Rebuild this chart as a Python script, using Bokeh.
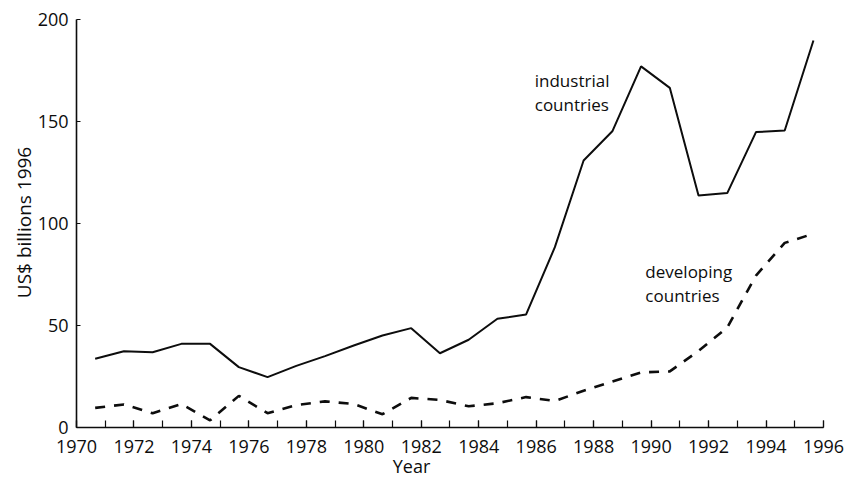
import math
from bokeh.plotting import figure
from bokeh.models import Range1d, LinearAxis, SingleIntervalTicker, FixedTicker, Label
from bokeh.embed import file_html
from bokeh.resources import INLINE

# ---- data ----
years = [1971, 1972, 1973, 1974, 1975, 1976, 1977, 1978, 1979, 1980, 1981, 1982, 1983,
         1984, 1985, 1986, 1987, 1988, 1989, 1990, 1991, 1992, 1993, 1994, 1995, 1996]
industrial = [33.7, 37.4, 36.9, 41.0, 41.0, 29.6, 24.7, 30.2, 35.0, 40.2, 45.1, 48.7, 36.4,
              43.0, 53.3, 55.4, 88.4, 130.9, 145.2, 177.0, 166.5, 113.7, 114.9, 144.8, 145.6, 189.7]
developing = [9.6, 11.3, 7.0, 11.5, 3.5, 15.5, 7.0, 11.0, 12.8, 11.5, 6.5, 14.5, 13.5,
              10.4, 11.9, 14.9, 13.0, 18.0, 22.5, 27.0, 27.5, 37.5, 49.0, 74.5, 90.5, 95.0]
y_ticks = [0, 50, 100, 150, 200]
x_title = "Year"
y_title = "US$ billions 1996"
label_industrial = ["industrial", "countries"]
label_developing = ["developing", "countries"]

FONT = "Open Sans"
INK = "#0d0d0d"

# The frame covers the whole canvas; both axes are pinned inside it (x at y=0, y at x=1970)
# so that every text (tick labels, titles) is drawn without clipping.
p = figure(width=846, height=479, output_backend="svg", toolbar_location=None,
           x_range=Range1d(1967.3547, 1996.8006), y_range=Range1d(-25.49, 209.31),
           x_axis_location=None, y_axis_location=None, min_border=0,
           min_border_left=0, min_border_right=0, min_border_top=0, min_border_bottom=0)
p.outline_line_color = None
p.background_fill_color = "white"
p.border_fill_color = "white"
p.xgrid.visible = False
p.ygrid.visible = False

# the curves sit slightly left of the year ticks in the reference
p.extra_x_ranges = {"curves": Range1d(1967.7047, 1997.1506)}

xaxis = LinearAxis(ticker=SingleIntervalTicker(interval=2, num_minor_ticks=2),
                   fixed_location=0, bounds=(1970, 1996))
xaxis.axis_line_color = INK
xaxis.axis_line_width = 1.6
xaxis.major_tick_in = 7
xaxis.major_tick_out = 0
xaxis.minor_tick_in = 7
xaxis.minor_tick_out = 0
xaxis.major_tick_line_color = INK
xaxis.minor_tick_line_color = INK
xaxis.major_tick_line_width = 1.2
xaxis.minor_tick_line_width = 1.2
xaxis.major_label_text_font = FONT
xaxis.major_label_text_font_size = "18px"
xaxis.major_label_text_color = INK
xaxis.major_label_standoff = 13
p.add_layout(xaxis, "below")

yaxis = LinearAxis(ticker=FixedTicker(ticks=y_ticks), fixed_location=1970, bounds=(0, 200))
yaxis.axis_line_color = INK
yaxis.axis_line_width = 1.6
yaxis.major_tick_in = 4
yaxis.major_tick_out = 0
yaxis.major_tick_line_color = INK
yaxis.minor_tick_line_color = None
yaxis.major_label_text_font = FONT
yaxis.major_label_text_font_size = "18px"
yaxis.major_label_text_color = INK
yaxis.major_label_standoff = 8
p.add_layout(yaxis, "left")

p.line(years, industrial, x_range_name="curves", line_color=INK, line_width=2.0)
p.line(years, developing, x_range_name="curves", line_color=INK, line_width=2.6,
       line_dash="10 9")

def add_text(x, y, text, size="17px", align="left", baseline="alphabetic", angle=0.0):
    p.add_layout(Label(x=x, y=y, text=text, text_font=FONT, text_font_size=size,
                       text_color=INK, text_align=align, text_baseline=baseline, angle=angle))

add_text(1985.95, 170.1, label_industrial[0])
add_text(1985.95, 158.3, label_industrial[1])
add_text(1989.8, 76.4, label_developing[0])
add_text(1989.8, 64.7, label_developing[1])
add_text(1981.66, -18.8, x_title, size="18px", align="center")
add_text(1968.19, 100.5, y_title, size="19px", align="center", baseline="middle",
         angle=math.pi / 2)

open("out.html", "w").write(file_html(p, INLINE))
